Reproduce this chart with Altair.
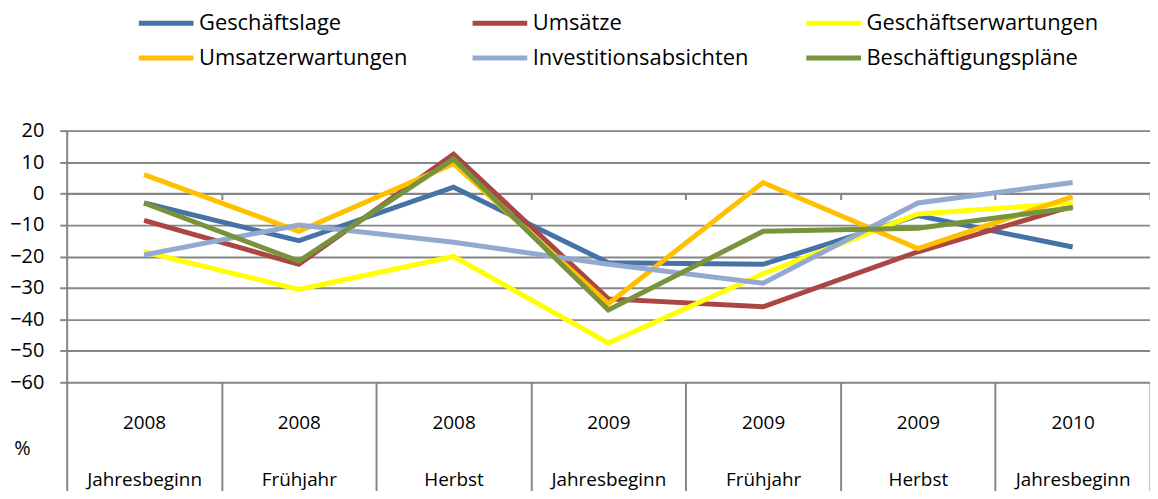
import altair as alt
import pandas as pd

periods = ["2008|Jahresbeginn", "2008|Frühjahr", "2008|Herbst", "2009|Jahresbeginn",
           "2009|Frühjahr", "2009|Herbst", "2010|Jahresbeginn"]

series_names = ["Geschäftslage", "Umsätze", "Geschäftserwartungen",
                "Umsatzerwartungen", "Investitionsabsichten", "Beschäftigungspläne"]
series_colors = ["#4572A7", "#AA4643", "#FFFF00", "#FFC000", "#93A9CF", "#77933C"]

geschaeftslage = [-3, -15, 2, -22, -22.5, -7, -17]
umsaetze = [-8.5, -22.5, 12.5, -33.5, -36, -18.5, -4]
geschaeftserwartungen = [-18.5, -30.5, -20, -47.5, -25.5, -6.5, -3]
umsatzerwartungen = [6, -12, 9.5, -35, 3.5, -17.5, -1]
investitionsabsichten = [-19.5, -10, -15.5, -22.5, -28.5, -3, 3.5]
beschaeftigungsplaene = [-3, -21.5, 11, -37, -12, -11, -4.5]

y_ticks = [20, 10, 0, -10, -20, -30, -40, -50, -60]

all_values = [geschaeftslage, umsaetze, geschaeftserwartungen,
              umsatzerwartungen, investitionsabsichten, beschaeftigungsplaene]
rows = []
for si, (name, vals) in enumerate(zip(series_names, all_values)):
    for pi, (p, v) in enumerate(zip(periods, vals)):
        rows.append({"series": name, "period": p, "value": v, "s_order": si})
df = pd.DataFrame(rows)

FONT = "Open Sans"
GRID = "#868686"
W, H = 1089, 253

xscale = alt.Scale(type="band", paddingInner=0, paddingOuter=0, domain=periods)
yscale = alt.Scale(domain=[-60, 20], nice=False, zero=False)

base = alt.Chart(df)

lines = base.mark_line(strokeWidth=5, strokeJoin="miter").encode(
    x=alt.X("period:N", scale=xscale, title=None,
            axis=alt.Axis(orient="bottom", offset=-(H * 6 / 8), labels=False,
                          domain=True, domainColor=GRID, domainWidth=2,
                          ticks=True, tickBand="extent", tickSize=6,
                          tickColor=GRID, tickWidth=2, grid=False)),
    y=alt.Y("value:Q", scale=yscale, title="%",
            axis=alt.Axis(values=y_ticks, grid=True, gridColor=GRID, gridWidth=2,
                          domain=True, domainColor=GRID, domainWidth=2,
                          ticks=True, tickColor=GRID, tickWidth=2, tickSize=7,
                          labelFont=FONT, labelFontSize=20, labelColor="#000000",
                          labelPadding=16,
                          titleFont=FONT, titleFontSize=20, titleFontWeight="normal",
                          titleColor="#000000", titleAngle=0, titleX=-45, titleY=320,
                          titleAlign="center", titleBaseline="middle")),
    color=alt.Color("series:N", sort=series_names,
                    scale=alt.Scale(domain=series_names, range=series_colors),
                    legend=alt.Legend(orient="none", legendX=89, legendY=-119,
                                      columns=3, gridAlign="all", direction="horizontal",
                                      symbolType="M-5.5,0H5.5", symbolSize=100,
                                      symbolStrokeWidth=5, labelFont=FONT,
                                      labelFontSize=22, labelColor="#000000",
                                      labelOffset=22, columnPadding=30.5, rowPadding=13,
                                      title=None, padding=0, labelLimit=400)),
    order=alt.Order("s_order:Q"),
)

table_axis = base.mark_point(opacity=0).encode(
    x=alt.X("period:N", scale=xscale, title=None,
            axis=alt.Axis(orient="bottom", domain=False, grid=False,
                          ticks=True, tickBand="extent", tickSize=120,
                          tickColor=GRID, tickWidth=2, labelAngle=0,
                          labelExpr="split(datum.label, '|')",
                          labelFont=FONT, labelFontSize=19, labelColor="#000000",
                          labelLineHeight=58, labelPadding=-89, labelBaseline="top",
                          labelAlign="center")),
)

chart = alt.layer(lines, table_axis).resolve_axis(x="independent").properties(
    width=W, height=H,
    autosize=alt.AutoSizeParams(type="none"),
    padding={"left": 59, "top": 122, "right": 0, "bottom": 108},
).configure_view(strokeWidth=0).configure(background="white")

chart.save("out.html", embed_options={"renderer": "svg", "actions": False})
